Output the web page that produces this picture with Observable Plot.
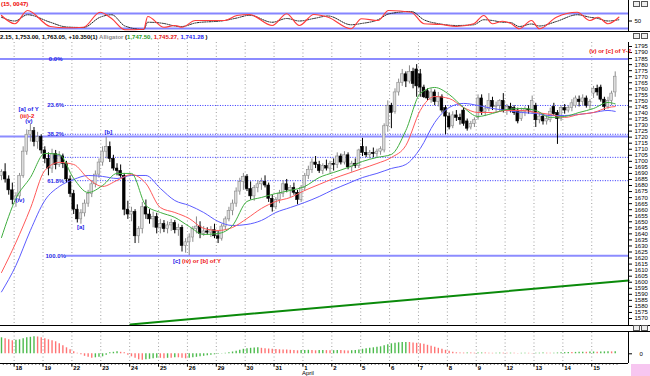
<!DOCTYPE html>
<html><head><meta charset="utf-8">
<script src="https://cdn.jsdelivr.net/npm/d3@7"></script>
<script src="https://cdn.jsdelivr.net/npm/@observablehq/plot@0.6"></script>
<style>
html,body{margin:0;padding:0;background:#fff;}
#wrap{position:relative;width:650px;height:376px;overflow:hidden;font-family:"Liberation Sans",Arial,sans-serif;background:#fff;}
#wrap svg{display:block;}
.row{position:relative;width:650px;box-sizing:border-box;}
#info{height:11px;border-top:1px solid #000;font-size:6px;font-weight:bold;line-height:10px;white-space:nowrap;padding-left:0;}
#gap{height:7px;border-top:1px solid #000;border-bottom:1px solid #000;}
.ico{position:absolute;width:7px;height:6px;border:1px solid #555;box-sizing:border-box;background:#eee;}
#stochLabel{position:absolute;left:1px;top:1px;font-size:6px;font-weight:bold;color:#e00;}
#pink{position:absolute;left:631px;top:364px;width:19px;height:12px;background:#f7c6f0;}
</style></head><body>
<div id="wrap"></div>
<script>
// ---------- data ----------
const open = [1688,1691,1685,1676,1668,1671,1688,1708,1722,1725,
1716,1720,1709,1702,1694,1706,1697,1704,1698,1685,
1673,1660,1652,1657,1665,1673,1681,1689,1699,1708,
1712,1702,1694,1692,1688,1660,1656,1658,1638,1644,
1662,1656,1652,1654,1645,1648,1644,1647,1649,1643,
1645,1630,1633,1637,1644,1646,1640,1642,1641,1643,
1638,1636,1646,1652,1659,1665,1675,1683,1687,1677,
1671,1678,1681,1683,1680,1669,1662,1668,1673,1681,
1676,1678,1674,1668,1678,1688,1693,1699,1697,1692,
1696,1694,1698,1697,1704,1699,1705,1695,1698,1696,
1712,1707,1705,1707,1706,1708,1709,1729,1746,1741,
1757,1765,1772,1766,1774,1776,1772,1761,1758,1751,
1757,1749,1753,1744,1737,1729,1738,1736,1742,1733,
1728,1731,1736,1752,1741,1743,1750,1745,1746,1750,
1742,1745,1744,1742,1735,1741,1743,1741,1746,1734,
1737,1733,1734,1745,1740,1735,1744,1742,1744,1746,
1751,1749,1752,1746,1756,1760,1761,1751,1745,1750,1757];
const high = [1693,1698,1688,1682,1674,1690,1712,1726,1731,1728,
1724,1722,1712,1707,1710,1709,1708,1706,1700,1688,
1676,1664,1660,1668,1676,1684,1692,1702,1712,1720,
1716,1705,1698,1697,1690,1667,1662,1660,1646,1666,
1668,1660,1658,1657,1652,1651,1650,1652,1651,1648,
1647,1636,1640,1646,1654,1650,1646,1645,1646,1648,
1642,1648,1654,1662,1668,1678,1686,1690,1689,1683,
1680,1684,1686,1688,1682,1672,1670,1676,1684,1685,
1680,1682,1676,1680,1690,1696,1702,1704,1700,1698,
1701,1700,1702,1707,1706,1708,1707,1700,1702,1710,
1719,1712,1709,1711,1710,1712,1731,1750,1748,1760,
1768,1776,1774,1779,1777,1780,1776,1763,1760,1760,
1759,1757,1755,1746,1740,1741,1742,1739,1744,1735,
1733,1736,1755,1755,1746,1756,1753,1749,1751,1756,
1747,1748,1746,1744,1744,1745,1746,1754,1748,1740,
1739,1738,1744,1748,1742,1746,1747,1746,1751,1754,
1754,1755,1754,1751,1762,1763,1763,1753,1753,1758,1774];
const low = [1684,1682,1672,1664,1662,1668,1686,1705,1716,1712,
1710,1706,1698,1688,1690,1693,1695,1694,1682,1670,
1656,1649,1648,1654,1662,1670,1678,1686,1696,1702,
1699,1692,1688,1686,1655,1652,1650,1632,1632,1640,
1652,1648,1645,1640,1640,1641,1640,1642,1640,1638,
1625,1624,1622,1633,1640,1636,1638,1639,1637,1636,
1632,1634,1643,1650,1655,1662,1672,1676,1675,1668,
1667,1674,1676,1678,1666,1658,1660,1665,1670,1674,
1670,1672,1664,1666,1675,1685,1690,1694,1690,1689,
1692,1690,1692,1694,1697,1697,1693,1691,1694,1694,
1704,1703,1702,1703,1703,1705,1707,1724,1727,1739,
1754,1762,1761,1764,1760,1753,1753,1752,1750,1748,
1746,1745,1740,1722,1726,1727,1733,1730,1729,1725,
1726,1728,1734,1738,1737,1741,1742,1740,1741,1740,
1738,1740,1738,1731,1733,1737,1739,1739,1728,1731,
1730,1730,1732,1738,1714,1733,1739,1740,1741,1744,
1745,1746,1744,1743,1752,1754,1749,1742,1743,1746,1753];
const close = [1691,1685,1676,1668,1671,1688,1708,1722,1725,1716,
1720,1709,1702,1694,1706,1697,1704,1698,1685,1673,
1660,1652,1657,1665,1673,1681,1689,1699,1708,1712,
1702,1694,1692,1688,1660,1656,1658,1638,1644,1662,
1656,1652,1654,1645,1648,1644,1647,1649,1643,1645,
1630,1633,1637,1644,1646,1640,1642,1641,1643,1638,
1636,1646,1652,1659,1665,1675,1683,1687,1677,1671,
1678,1681,1683,1680,1669,1662,1668,1673,1681,1676,
1678,1674,1668,1678,1688,1693,1699,1697,1692,1696,
1694,1698,1697,1704,1699,1705,1695,1698,1696,1709,
1707,1705,1707,1706,1708,1710,1729,1746,1740,1757,
1765,1772,1766,1774,1764,1762,1761,1753,1752,1757,
1749,1753,1742,1737,1728,1738,1736,1734,1731,1727,
1731,1734,1752,1741,1743,1750,1745,1746,1750,1742,
1745,1742,1740,1733,1741,1743,1742,1750,1734,1737,
1733,1735,1741,1739,1735,1744,1742,1744,1748,1752,
1749,1752,1746,1749,1760,1757,1751,1745,1750,1756,1770];

// Alligator (jaw / teeth / lips) read at every 4th bar
const alligatorX = [0,4,8,12,16,20,24,28,32,36,40,44,48,52,56,60,64,68,72,76,80,84,88,92,96,100,104,108,112,116,120,124,128,132,136,140,144,148,152,156,160,164,168,170];
const lips  = [1637.0,1669.3,1686.6,1706.5,1705.7,1685.8,1674.2,1680.0,1690.0,1690.0,1663.5,1657.7,1653.6,1646.1,1639.5,1640.3,1646.9,1666.8,1670.1,1673.4,1675.9,1679.2,1686.6,1690.8,1694.9,1699.9,1703.2,1705.7,1725.5,1756.1,1761.1,1755.3,1744.5,1737.1,1739.6,1742.9,1743.7,1742.1,1736.3,1737.1,1740.4,1743.7,1748.7,1747.5];
const teeth = [1608.0,1632.9,1661.0,1692.4,1699.1,1697.4,1685.8,1679.2,1684.2,1689.1,1681.7,1661.8,1657.7,1652.7,1644.5,1642.8,1645.3,1652.7,1661.0,1666.8,1670.1,1675.9,1680.9,1685.8,1690.0,1694.1,1698.2,1703.2,1713.1,1742.1,1753.6,1752.0,1744.5,1740.4,1740.4,1742.1,1742.1,1740.4,1738.8,1736.3,1738.8,1740.4,1744.5,1745.3];
const jaw   = [1592.0,1613.9,1642.8,1667.6,1679.2,1685.0,1688.3,1687.5,1685.8,1688.3,1688.3,1677.6,1667.6,1663.5,1657.7,1650.3,1646.9,1647.8,1651.1,1657.7,1661.8,1666.0,1670.9,1676.7,1681.7,1686.6,1690.0,1694.1,1697.4,1710.6,1732.1,1744.5,1747.9,1746.2,1743.7,1742.1,1740.4,1739.6,1737.9,1737.9,1738.8,1740.4,1742.1,1741.3];

// Stochastic (%K, %D)
const stochX = [0,3.7,7.2,13.5,18,22.7,27.3,30.5,34.2,39.4,40.5,45,48,50,53.7,61.8,65.2,68.7,75,79,82.5,86.5,90.5,96.8,99.7,104.3,107.2,113.5,117,121.6,126,130.8,133.6,136,138.8,141,143.4,146.8,149,153.7,159.5,163,165.2,168,171];
const stochK = [72,39,92,28,23,25,85,60,15,17,68,25,32,25,52,52,72,76,32,79,32,76,65,19,59,52,92,85,39,36,28,39,72,39,49,41,19,52,19,65,85,52,65,39,65];
const stochD = [65,50,75,45,26,24,65,75,30,16,45,40,30,28,42,52,62,73,45,60,50,60,70,35,40,55,78,88,55,38,32,35,55,52,45,44,28,38,30,48,75,65,60,50,55];
const stochLevels = [80, 20];

// Oscillator histogram (one value per bar)
const aoValues = [16,15,14,13,13.5,14,15,16,16.5,17,
16.8,16,15,14,13,12,10,8,6,4,
2,0.5,-1,-2.5,-3.5,-4.5,-4,-3.5,-3,-1.5,
1,1.5,2,1.5,1,-1.5,-3,-4.5,-6,-6.5,
-6,-5.5,-5,-4.5,-4.5,-5,-4.5,-4.5,-4,-4,
-4.5,-5,-4.5,-4,-3.5,-3,-2.5,-2,-1.5,-1,
-0.5,0.3,0.5,1,1.8,2.5,3.5,4.5,5,5.5,
5.8,6,5.5,5,4.8,4.5,4.2,4,3.8,3.8,
3.5,3.3,3,3.2,3.4,3.5,3.3,3,3.2,3.4,
3.2,3.0,3.1,3.3,3.2,3.0,2.9,3.1,3.4,3.8,
4.5,5,5.5,6,6.5,7,8,9,10,10.5,
11,11.2,11.3,11.3,10.8,10.5,10,9.5,8.5,7.5,
6.5,5.5,4.5,3.5,2.5,1.5,1,0.8,0.7,0.8,
0.7,0.6,0.7,0.8,0.7,0.6,0.5,0.6,0.7,0.6,
0.5,0.6,0.5,0.4,0.5,0.6,0.5,0.4,0.5,0.6,
0.7,0.6,0.5,0.6,0.8,1,1.2,1.3,1.2,1.4,
1.5,1.6,1.5,1.7,1.8,1.6,1.8,1.9,2,1.9,2.1];

// Fibonacci retracement levels
const fibLevels = [1784.6, 1746.2, 1722.4, 1703.3, 1684.0, 1621.9];
const fibLabels = ["0.0%", "23.6%", "38.2%", "50.0%", "61.8%", "100.0%"];
const supportLevel = 1720.6;

// trend line (bar index, price)
const trendX = [35.7, 173.7];
const trendY = [1565.1, 1601.5];

// Elliott wave labels
const waveText = ["[a] of Y", "(iii)-2", "(v)", "(iv)", "[a]", "[b]", "[c]", "(iv) or [b] of Y", "(v) or [c] of Y-2"];
const waveX = [7.5, 7.1, 7.6, 5.1, 21.9, 29.6, 48.5, 55.4, 168.6];
const waveY = [1742.9, 1737.1, 1733.0, 1667.6, 1645.3, 1723.9, 1617.2, 1617.2, 1790.9];
const waveCount = ["main", "alt", "main", "main", "main", "main", "main", "alt", "alt"];

// date axis
const dayLabels = ["18","19","22","23","24","25","26","29","30","31","1","2","5","6","7","8","9","12","13","14","15"];
const monthLabel = "April";
const monthDay = 10;
const barsPerDay = 8;
const firstDayStart = 3.5;

// ---------- build ----------
const xDomain = [-0.277, 173.68];
const xHi = xDomain[1], xLo = xDomain[0];
const W = 650, MR = 22;
const font = "Liberation Sans, Arial, sans-serif";
const baseStyle = {fontSize: "6px", fontFamily: font, background: "transparent", overflow: "visible", color: "#000"};

const bars = open.map((o, i) => ({i, o, h: high[i], l: low[i], c: close[i], up: close[i] >= o}));
const gator = alligatorX.map((x, j) => ({x, lips: lips[j], teeth: teeth[j], jaw: jaw[j]}));
const stochPts = stochX.map((x, j) => ({x, k: stochK[j], d: stochD[j]}));
const ao = aoValues.map((v, i) => ({i, v, color: (i === 0 || v > aoValues[i - 1]) ? "#4dbb4d" : "#ff7474"}));
const dayBounds = dayLabels.map((_, k) => firstDayStart + barsPerDay * k);
const fibs = fibLevels.map((p, j) => ({p, label: fibLabels[j], j}));
const trend = trendX.map((x, j) => ({x, y: trendY[j]}));
const waves = waveText.map((t, j) => ({t, x: waveX[j], y: waveY[j], kind: waveCount[j]}));
const fibStart = 17.7, fibLabelX = 15;

const stochPlot = Plot.plot({
  width: W, height: 31, marginLeft: 0, marginRight: MR, marginTop: 0, marginBottom: 0,
  style: baseStyle,
  x: {domain: xDomain, axis: null},
  y: {domain: [8, 132], axis: "right", ticks: [50], tickSize: 3, tickPadding: 3, tickFormat: d => String(d), label: null},
  marks: [
    Plot.ruleY(stochLevels, {stroke: "#8585ff", strokeWidth: 2}),
    Plot.line(stochPts, {x: "x", y: "d", stroke: "#222", strokeWidth: 1, strokeDasharray: "1.2,1.2", curve: "monotone-x"}),
    Plot.line(stochPts, {x: "x", y: "k", stroke: "#ff3b3b", strokeWidth: 1.2, curve: "monotone-x"}),
    Plot.ruleX([xHi], {stroke: "#000"})
  ]
});

const mainPlot = Plot.plot({
  width: W, height: 283, marginLeft: 0, marginRight: MR, marginTop: 0, marginBottom: 0,
  style: baseStyle,
  x: {domain: xDomain, axis: null},
  y: {domain: [1564.2, 1798.3], axis: "right", ticks: d3.range(1570, 1796, 5), tickSize: 3, tickPadding: 3, tickFormat: d => String(d), label: null},
  marks: [
    Plot.ruleX(dayBounds, {stroke: "#a0a0a0", strokeDasharray: "1,2.5"}),
    // solid levels
    Plot.ruleY(fibs.filter(d => d.j === 0), {y: "p", stroke: "#8c8cff", strokeWidth: 2}),
    Plot.ruleY([supportLevel], {stroke: "#8c8cff", strokeWidth: 2}),
    Plot.ruleY(fibs.filter(d => d.j === fibs.length - 1), {y: "p", x1: () => fibStart, x2: () => xHi, stroke: "#8c8cff", strokeWidth: 2}),
    // dotted levels
    Plot.ruleY(fibs.filter(d => d.j > 0 && d.j < fibs.length - 1), {y: "p", x1: () => fibStart, x2: () => xHi, stroke: "#3030ff", strokeWidth: 1, strokeDasharray: "1,1.5"}),
    Plot.text(fibs, {x: () => fibLabelX, y: "p", text: "label", fill: "#2a2ae6", fontSize: 6, fontWeight: "bold"}),
    // trend line
    Plot.line(trend, {x: "x", y: "y", stroke: "#0a8a0a", strokeWidth: 2}),
    // candles
    Plot.ruleX(bars, {x: "i", y1: "l", y2: "h", stroke: d => d.up ? "#8a8a8a" : "#000", strokeWidth: 1}),
    Plot.rect(bars, {x1: d => d.i - 0.37, x2: d => d.i + 0.37,
      y1: d => Math.min(d.o, d.c), y2: d => Math.max(d.o, d.c),
      fill: d => d.up ? "#dcdcdc" : "#000", stroke: d => d.up ? "#8a8a8a" : "#000", strokeWidth: 0.6}),
    // alligator
    Plot.line(gator, {x: "x", y: "jaw", stroke: "#5c5cff", strokeWidth: 1, curve: "monotone-x"}),
    Plot.line(gator, {x: "x", y: "teeth", stroke: "#ff5a5a", strokeWidth: 1, curve: "monotone-x"}),
    Plot.line(gator, {x: "x", y: "lips", stroke: "#3fae3f", strokeWidth: 1, curve: "monotone-x"}),
    // wave labels
    Plot.text(waves, {x: "x", y: "y", text: "t", fill: d => d.kind === "alt" ? "#ee1111" : "#1818e8", fontSize: 6, fontWeight: "bold"}),
    Plot.ruleX([xHi], {stroke: "#000"})
  ]
});

const bottomPlot = Plot.plot({
  width: W, height: 44, marginLeft: 0, marginRight: MR, marginTop: 0, marginBottom: 13,
  style: baseStyle,
  x: {domain: xDomain, axis: null},
  y: {domain: [-9.7, 21.3], axis: "right", ticks: [0], tickSize: 3, tickPadding: 8, tickFormat: d => String(d), label: null},
  marks: [
    Plot.ruleX(dayBounds, {stroke: "#a0a0a0", strokeDasharray: "1,2.5"}),
    Plot.ruleX(ao, {x: "i", y1: 0, y2: "v", stroke: "color", strokeWidth: 1.4}),
    Plot.ruleY([-9.7], {stroke: "#000"}),
    Plot.ruleX(bars, {x: d => d.i + 0.5, y1: -9.7, y2: -11.6, stroke: "#000", strokeWidth: 0.6}),
    Plot.ruleX(dayBounds, {y1: -9.7, y2: -13.4, stroke: "#000", strokeWidth: 1}),
    Plot.text(dayLabels, {x: (d, k) => dayBounds[k], y: -14.2, text: d => d, textAnchor: "start", dx: 1.4, fontSize: 6, fontWeight: "bold", fill: "#000"}),
    Plot.text([monthLabel], {x: () => dayBounds[monthDay], y: -19.6, text: d => d, textAnchor: "start", dx: -1, fontSize: 6, fill: "#000"}),
    Plot.ruleX([xHi], {y1: -9.7, y2: 21.3, stroke: "#000"})
  ]
});

// ---------- assemble ----------
const wrap = document.getElementById("wrap");
wrap.appendChild(stochPlot);
const info = document.createElement("div");
info.id = "info"; info.className = "row";
info.innerHTML = '<span style="color:#000">2.15, 1,753.00, 1,763.05, +10.350(1)</span> <span style="color:#8a8a8a">Alligator</span> <span>(</span><span style="color:#1e9a1e">1,747.50,</span> <span style="color:#e01010">1,745.27,</span> <span style="color:#2222ee">1,741.28</span> <span>)</span>';
wrap.appendChild(info);
wrap.appendChild(mainPlot);
const gap = document.createElement("div"); gap.id = "gap"; gap.className = "row";
wrap.appendChild(gap);
wrap.appendChild(bottomPlot);

const lab = document.createElement("div"); lab.id = "stochLabel"; lab.textContent = "(15, 0047)";
wrap.appendChild(lab);
[[633, 1], [641, 1], [633, 33], [641, 33], [633, 325], [641, 325]].forEach(([l, t]) => {
  const b = document.createElement("div"); b.className = "ico"; b.style.left = l + "px"; b.style.top = t + "px"; wrap.appendChild(b);
});
const pink = document.createElement("div"); pink.id = "pink"; wrap.appendChild(pink);
</script></body></html>
